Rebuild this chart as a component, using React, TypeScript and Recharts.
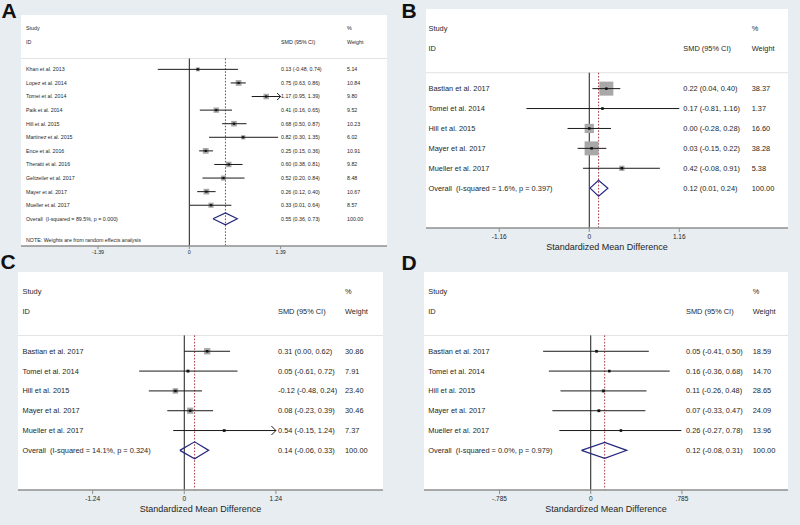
import React from 'react';
import { ScatterChart, Scatter, XAxis, YAxis, ReferenceLine, CartesianGrid } from 'recharts';

// ---------- Panel A ----------
const studiesA = ['Khan et al. 2013', 'Lopez et al. 2014', 'Tomei et al. 2014', 'Paik et al. 2014', 'Hill et al. 2015', 'Martinez et al. 2015', 'Ence et al. 2016', 'Theratti et al. 2016', 'Geltzeiler et al. 2017', 'Mayer et al. 2017', 'Mueller et al. 2017'];
const smdA = [0.13, 0.75, 1.17, 0.41, 0.68, 0.82, 0.25, 0.60, 0.52, 0.26, 0.33];
const loA = [-0.48, 0.63, 0.95, 0.16, 0.50, 0.30, 0.15, 0.38, 0.20, 0.12, 0.01];
const hiA = [0.74, 0.86, 1.39, 0.65, 0.87, 1.35, 0.36, 0.81, 0.84, 0.40, 0.64];
const weightA = [5.14, 10.84, 9.80, 9.52, 10.23, 6.02, 10.91, 9.82, 8.48, 10.67, 8.57];
const overallA = [0.55, 0.36, 0.73];
const hetA = 'Overall  (I-squared = 89.5%, p = 0.000)';
const noteA = 'NOTE: Weights are from random effects analysis';
const ticksA = [-1.39, 0, 1.39];
const tickLabelsA = ['-1.39', '0', '1.39'];
const arrowsA = [2];

// ---------- Panels B, C, D ----------
const studiesBCD = ['Bastian et al. 2017', 'Tomei et al. 2014', 'Hill et al. 2015', 'Mayer et al. 2017', 'Mueller et al. 2017'];

const smdB = [0.22, 0.17, 0.00, 0.03, 0.42];
const loB = [0.04, -0.81, -0.28, -0.15, -0.08];
const hiB = [0.40, 1.16, 0.28, 0.22, 0.91];
const weightB = [38.37, 1.37, 16.60, 38.28, 5.38];
const overallB = [0.12, 0.01, 0.24];
const hetB = 'Overall  (I-squared = 1.6%, p = 0.397)';
const ticksB = [-1.16, 0, 1.16];
const tickLabelsB = ['-1.16', '0', '1.16'];

const smdC = [0.31, 0.05, -0.12, 0.08, 0.54];
const loC = [0.00, -0.61, -0.48, -0.23, -0.15];
const hiC = [0.62, 0.72, 0.24, 0.39, 1.24];
const weightC = [30.86, 7.91, 23.40, 30.46, 7.37];
const overallC = [0.14, -0.06, 0.33];
const hetC = 'Overall  (I-squared = 14.1%, p = 0.324)';
const ticksC = [-1.24, 0, 1.24];
const tickLabelsC = ['-1.24', '0', '1.24'];
const arrowsC = [4];

const smdD = [0.05, 0.16, 0.11, 0.07, 0.26];
const loD = [-0.41, -0.36, -0.26, -0.33, -0.27];
const hiD = [0.50, 0.68, 0.48, 0.47, 0.78];
const weightD = [18.59, 14.70, 28.65, 24.09, 13.96];
const overallD = [0.12, -0.08, 0.31];
const hetD = 'Overall  (I-squared = 0.0%, p = 0.979)';
const ticksD = [-0.785, 0, 0.785];
const tickLabelsD = ['-.785', '0', '.785'];

const axisTitle = 'Standardized Mean Difference';

const FONT = '"Liberation Sans", Arial, Helvetica, sans-serif';
const TEXT = '#262626';
const BG = '#e7edf0';

type Cfg = {
  names: string[]; est: number[]; lo: number[]; hi: number[]; w: number[];
  overall: number[]; het: string; note?: string;
  ticks: number[]; tickLabels: string[]; arrows: number[];
  left: number; top: number; width: number; plotH: number; axisH: number;
  domain: [number, number]; yMax: number;
  font: number; tickFont: number; cols: [number, number, number];
  k: number; dot: number; dHalf: number; arrowW: number; arrowH: number;
  title?: string; noteRow?: number; tickSize: number; tickMargin: number;
};

const fmt = (e: number, l: number, h: number) => `${e.toFixed(2)} (${l.toFixed(2)}, ${h.toFixed(2)})`;

const Panel = ({ cfg }: { cfg: Cfg }) => {
  const n = cfg.names.length;
  const overallRow = 3 + n;
  const sepRow = 2.2;
  const rowDefs: { x: number; y: number; cells: string[] }[] = [
    { x: cfg.domain[0], y: 0, cells: ['Study', '', '%'] },
    { x: cfg.domain[0], y: 1, cells: ['ID', 'SMD (95% CI)', 'Weight'] },
    ...cfg.names.map((nm, i) => ({ x: cfg.domain[0], y: 3 + i, cells: [nm, fmt(cfg.est[i], cfg.lo[i], cfg.hi[i]), cfg.w[i].toFixed(2)] })),
    { x: cfg.domain[0], y: overallRow, cells: [cfg.het, fmt(cfg.overall[0], cfg.overall[1], cfg.overall[2]), '100.00'] },
  ];
  if (cfg.note && cfg.noteRow !== undefined) rowDefs.push({ x: cfg.domain[0], y: cfg.noteRow, cells: [cfg.note, '', ''] });

  const pts = cfg.names.map((_, i) => ({ x: cfg.est[i], y: 3 + i, w: cfg.w[i] }));
  const [oe, ol, oh] = cfg.overall;
  const diamond = [
    { x: ol, y: overallRow }, { x: oe, y: overallRow - cfg.dHalf }, { x: oh, y: overallRow },
    { x: oe, y: overallRow + cfg.dHalf }, { x: ol, y: overallRow },
  ];
  const arrowPts = cfg.arrows.map((i) => ({ x: cfg.hi[i], y: 3 + i }));

  const textShape = (p: any) => {
    const cells: string[] = p.payload.cells;
    return (
      <g>
        {cells.map((c, j) =>
          c ? (
            <text key={j} x={p.cx + cfg.cols[j]} y={p.cy} dy="0.35em" textAnchor="start" fontSize={cfg.font} fill={TEXT} fontFamily={FONT} style={{ whiteSpace: 'pre' }}>
              {c}
            </text>
          ) : null
        )}
      </g>
    );
  };

  const nothing = () => <g />;

  return (
    <div style={{ position: 'absolute', left: cfg.left, top: cfg.top }}>
      <ScatterChart width={cfg.width} height={cfg.plotH + cfg.axisH} margin={{ top: 0, right: 0, bottom: 0, left: 0 }}>
        <CartesianGrid fill="#ffffff" stroke="none" horizontal={false} vertical={false} />
        <XAxis
          type="number"
          dataKey="x"
          domain={cfg.domain}
          allowDataOverflow
          ticks={cfg.ticks}
          interval={0}
          tickFormatter={(v: number) => cfg.tickLabels[cfg.ticks.indexOf(v)] ?? String(v)}
          axisLine={{ stroke: '#8f8f8f', strokeWidth: 1.5 }}
          tickLine={{ stroke: '#8f8f8f', strokeWidth: 1 }}
          tickSize={cfg.tickSize}
          tickMargin={cfg.tickMargin}
          tick={{ fontSize: cfg.tickFont, fill: TEXT, fontFamily: FONT }}
          height={cfg.axisH}
          label={cfg.title ? { value: cfg.title, position: 'insideBottom', offset: 4, fontSize: 9, fill: TEXT, fontFamily: FONT } : undefined}
        />
        <YAxis type="number" dataKey="y" domain={[-1, cfg.yMax]} allowDataOverflow reversed width={0} hide />
        <ReferenceLine y={sepRow} stroke="#e2e2e2" strokeWidth={1} />
        <ReferenceLine segment={[{ x: 0, y: sepRow }, { x: 0, y: cfg.yMax }]} stroke="#1a1a1a" strokeWidth={1} />
        <ReferenceLine segment={[{ x: oe, y: sepRow }, { x: oe, y: cfg.yMax }]} stroke="#a33a4a" strokeWidth={1} strokeDasharray="1.6 1.6" />
        <Scatter data={rowDefs} isAnimationActive={false} shape={textShape} />
        <Scatter
          data={pts}
          isAnimationActive={false}
          shape={(p: any) => {
            const s = cfg.k * Math.sqrt(p.payload.w);
            return <rect x={p.cx - s / 2} y={p.cy - s / 2} width={s} height={s} fill="#a8a8a8" />;
          }}
        />
        {cfg.names.map((_, i) => (
          <Scatter
            key={'ci' + i}
            data={[{ x: cfg.lo[i], y: 3 + i }, { x: cfg.hi[i], y: 3 + i }]}
            isAnimationActive={false}
            line={{ stroke: '#1a1a1a', strokeWidth: 1 }}
            shape={nothing}
          />
        ))}
        <Scatter
          data={pts}
          isAnimationActive={false}
          shape={(p: any) => (
            <rect x={p.cx - cfg.dot / 2} y={p.cy - cfg.dot / 2} width={cfg.dot} height={cfg.dot} fill="#111" />
          )}
        />
        <Scatter
          data={arrowPts}
          isAnimationActive={false}
          shape={(p: any) => (
            <path d={`M${p.cx - cfg.arrowW},${p.cy - cfg.arrowH} L${p.cx},${p.cy} L${p.cx - cfg.arrowW},${p.cy + cfg.arrowH}`} fill="none" stroke="#1a1a1a" strokeWidth={1} />
          )}
        />
        <Scatter data={diamond} isAnimationActive={false} line={{ stroke: '#26267f', strokeWidth: 1.2 }} shape={nothing} />
      </ScatterChart>
    </div>
  );
};

const cfgA: Cfg = {
  names: studiesA, est: smdA, lo: loA, hi: hiA, w: weightA, overall: overallA, het: hetA, note: noteA, noteRow: 15.56,
  ticks: ticksA, tickLabels: tickLabelsA, arrows: arrowsA,
  left: 21, top: 15, width: 366, plotH: 231, axisH: 14, domain: [-2.562, 3.009], yMax: 16,
  font: 5.3, tickFont: 5.3, cols: [5, 260, 326], k: 1.75, dot: 2.2, dHalf: 0.44, arrowW: 3.5, arrowH: 3.5,
  tickSize: 3, tickMargin: 1,
};
const cfgB: Cfg = {
  names: studiesBCD, est: smdB, lo: loB, hi: hiB, w: weightB, overall: overallB, het: hetB,
  ticks: ticksB, tickLabels: tickLabelsB, arrows: [],
  left: 426, top: 9, width: 362, plotH: 219, axisH: 26, domain: [-2.104, 2.561], yMax: 10,
  font: 7.4, tickFont: 6.5, cols: [2.5, 257.3, 325.7], k: 2.26, dot: 2.5, dHalf: 0.4, arrowW: 4, arrowH: 4,
  title: axisTitle, tickSize: 4, tickMargin: 2,
};
const cfgC: Cfg = {
  names: studiesBCD, est: smdC, lo: loC, hi: hiC, w: weightC, overall: overallC, het: hetC,
  ticks: ticksC, tickLabels: tickLabelsC, arrows: arrowsC,
  left: 18, top: 272, width: 365, plotH: 218, axisH: 26, domain: [-2.25, 2.689], yMax: 10,
  font: 7.4, tickFont: 6.5, cols: [4.5, 260, 327], k: 1.14, dot: 2.5, dHalf: 0.43, arrowW: 4.5, arrowH: 4.5,
  title: axisTitle, tickSize: 4, tickMargin: 2.5,
};
const cfgD: Cfg = {
  names: studiesBCD, est: smdD, lo: loD, hi: hiD, w: weightD, overall: overallD, het: hetD,
  ticks: ticksD, tickLabels: tickLabelsD, arrows: [],
  left: 424, top: 272, width: 364, plotH: 218, axisH: 26, domain: [-1.435, 1.698], yMax: 10,
  font: 7.4, tickFont: 6.5, cols: [4.3, 262, 328.7], k: 0.65, dot: 2.5, dHalf: 0.4, arrowW: 4, arrowH: 4,
  title: axisTitle, tickSize: 4, tickMargin: 2.5,
};

const letterStyle = (left: number, top: number): React.CSSProperties => ({
  position: 'absolute', left, top, fontFamily: FONT, fontWeight: 700, fontSize: 21, lineHeight: '21px', color: '#111',
});

export default function App() {
  return (
    <div style={{ position: 'absolute', left: 0, top: 0, width: 800, height: 525, background: BG, overflow: 'hidden' }}>
      <Panel cfg={cfgA} />
      <Panel cfg={cfgB} />
      <Panel cfg={cfgC} />
      <Panel cfg={cfgD} />
      <div style={letterStyle(1.5, 0)}>A</div>
      <div style={letterStyle(401.5, 0)}>B</div>
      <div style={letterStyle(0.5, 251)}>C</div>
      <div style={letterStyle(401.5, 252)}>D</div>
    </div>
  );
}
